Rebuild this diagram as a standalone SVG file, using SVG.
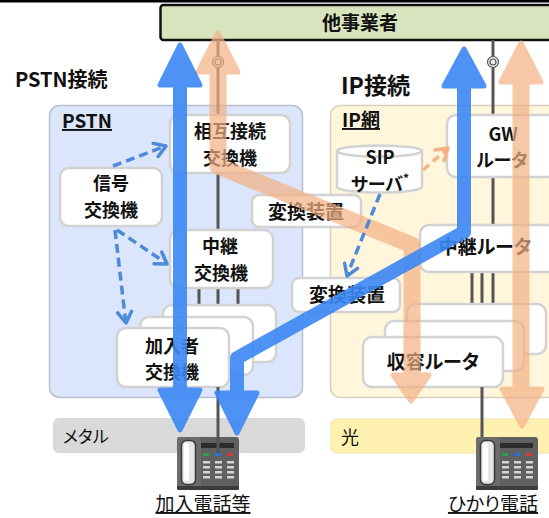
<svg xmlns="http://www.w3.org/2000/svg" width="549" height="518" viewBox="0 0 549 518">
  <style>
    text { font-family: "Noto Sans CJK JP", "Noto Sans", sans-serif; fill: #111; font-feature-settings: "palt"; }
    .title { font-size: 19px; font-weight: bold; }
    .lbl { font-size: 19px; font-weight: bold; text-anchor: middle; }
    .lbl2 { font-size: 18px; font-weight: bold; text-anchor: middle; }
    .media { font-size: 17px; }
    .cap { font-size: 19px; text-anchor: middle; text-decoration: underline; }
    .node { fill: #ffffff; stroke: #d2d2d2; stroke-width: 2.5; }
    .wire { stroke: #555555; stroke-width: 3; fill: none; }
    .dash { fill: none; stroke: #4d8bd9; stroke-width: 3.5; stroke-dasharray: 9 5; }
    .dash-o { fill: none; stroke: #f4b183; stroke-width: 3.5; stroke-dasharray: 8 5; }
    .chev { fill: none; stroke: #4d8bd9; stroke-width: 3.5; stroke-linecap: round; stroke-linejoin: round; }
    .chev-o { fill: none; stroke: #f4b183; stroke-width: 3.5; stroke-linecap: round; stroke-linejoin: round; }
    .blue { fill: #3b87f5; stroke: #3b87f5; stroke-width: 5; stroke-linejoin: round; }
    .orng { fill: #f4b183; stroke: #f4b183; stroke-width: 5; stroke-linejoin: round; }
  </style>
  <defs>
    <g id="phone">
      <rect x="0" y="0" width="62" height="52" rx="3" fill="#606060"/>
      <rect x="0" y="0" width="24" height="52" rx="3" fill="#6c6c6c"/>
      <rect x="0" y="49" width="62" height="4" rx="1" fill="#3c3c3c"/>
      <rect x="4.5" y="3.5" width="14" height="44" rx="5" fill="#e6e6e6" stroke="#3a3a3a" stroke-width="1.5"/>
      <rect x="7" y="6" width="5" height="38" rx="2" fill="#ffffff"/>
      <rect x="24" y="6" width="33" height="5" fill="#2c2c2c"/>
      <rect x="26" y="16" width="6" height="3" fill="#2e9e4a"/>
      <rect x="38" y="16" width="6" height="3" fill="#2f6fd6"/>
      <rect x="50" y="16" width="6" height="3" fill="#d63a3a"/>
      <g fill="#d4d4d4">
        <rect x="26" y="24" width="7" height="2.5"/><rect x="38" y="24" width="7" height="2.5"/><rect x="50" y="24" width="7" height="2.5"/>
        <rect x="26" y="29" width="7" height="2.5"/><rect x="38" y="29" width="7" height="2.5"/><rect x="50" y="29" width="7" height="2.5"/>
        <rect x="26" y="34" width="7" height="2.5"/><rect x="38" y="34" width="7" height="2.5"/><rect x="50" y="34" width="7" height="2.5"/>
        <rect x="26" y="39" width="7" height="2.5"/><rect x="38" y="39" width="7" height="2.5"/><rect x="50" y="39" width="7" height="2.5"/>
      </g>
    </g>
  </defs>

  <rect width="549" height="518" fill="#ffffff"/>
  <rect x="0" y="0" width="549" height="2.5" fill="#000000"/>

  <!-- network areas -->
  <g id="pstn-area">
    <rect x="49.5" y="105.5" width="253" height="292" rx="10" fill="#dbe5fb" stroke="#b7bfcd" stroke-width="1.5"/>
    <text x="62" y="128" class="title" style="text-decoration: underline;">PSTN</text>
  </g>
  <g id="ip-area">
    <rect x="330.5" y="105.5" width="240" height="292" rx="10" fill="#fff6db" stroke="#d8d1bd" stroke-width="1.5"/>
    <text x="342" y="127" class="title" style="text-decoration: underline;">IP網</text>
  </g>

  <text x="15" y="87" class="title" style="font-size: 20px;">PSTN接続</text>
  <text x="341" y="94" class="title" style="font-size: 23px;">IP接続</text>

  <!-- access media -->
  <g id="metal">
    <rect x="53" y="418" width="252" height="35" rx="6" fill="#d9d9d9"/>
    <text x="63" y="443" class="media">メタル</text>
  </g>
  <g id="hikari">
    <rect x="331" y="419" width="240" height="34" rx="6" fill="#fff2b0" stroke="#efe3a8" stroke-width="1"/>
    <text x="341" y="444" class="media" style="font-size: 18px;">光</text>
  </g>

  <!-- other carrier -->
  <g id="other-carrier">
    <rect x="160.5" y="5" width="400" height="35" rx="3" fill="#d7e4bd" stroke="#111111" stroke-width="2.5"/>
    <text x="360" y="30" class="lbl">他事業者</text>
  </g>

  <!-- physical wiring -->
  <g id="wires">
    <line x1="218" y1="40" x2="218" y2="115" class="wire"/>
    <line x1="218" y1="173" x2="218" y2="230" class="wire"/>
    <line x1="199" y1="288" x2="199" y2="330" class="wire"/>
    <line x1="218" y1="288" x2="218" y2="320" class="wire"/>
    <line x1="238" y1="288" x2="238" y2="310" class="wire"/>
    <line x1="493" y1="40" x2="493" y2="115" class="wire"/>
    <line x1="493" y1="177" x2="493" y2="225" class="wire"/>
    <line x1="472" y1="272" x2="472" y2="338" class="wire"/>
    <line x1="482" y1="272" x2="482" y2="322" class="wire"/>
    <line x1="493" y1="272" x2="493" y2="305" class="wire"/>
    <g fill="#eeeeee" stroke="#555555" stroke-width="1.2">
      <circle cx="218" cy="62" r="5.5"/>
      <circle cx="218" cy="62" r="3" fill="none"/>
      <circle cx="493" cy="62" r="5.5"/>
      <circle cx="493" cy="62" r="3" fill="none"/>
    </g>
  </g>

  <!-- PSTN nodes -->
  <g id="sogo-setsuzoku">
    <rect x="170" y="115" width="120" height="58" rx="9" class="node"/>
    <text class="lbl2"><tspan x="230" y="138">相互接続</tspan><tspan x="230" y="164.5">交換機</tspan></text>
  </g>
  <g id="shingo">
    <rect x="60" y="168" width="102" height="58" rx="9" class="node"/>
    <text class="lbl2"><tspan x="111" y="190">信号</tspan><tspan x="111" y="216.5">交換機</tspan></text>
  </g>
  <g id="chukei-kokanki">
    <rect x="170" y="230" width="103" height="58" rx="9" class="node"/>
    <text class="lbl2"><tspan x="220" y="253">中継</tspan><tspan x="221" y="279.5">交換機</tspan></text>
  </g>
  <g id="henkan-1">
    <rect x="252" y="195" width="109" height="32" rx="7" class="node"/>
    <text x="306" y="219" class="lbl">変換装置</text>
  </g>
  <g id="henkan-2">
    <rect x="292" y="278" width="108" height="34" rx="7" class="node"/>
    <text x="347" y="302" class="lbl">変換装置</text>
  </g>
  <g id="kanyusha">
    <rect x="163" y="305" width="113" height="57" rx="9" class="node"/>
    <rect x="140" y="317" width="113" height="58" rx="9" class="node"/>
    <rect x="117" y="328" width="112" height="59" rx="9" class="node"/>
    <text class="lbl2"><tspan x="172" y="352.5">加入者</tspan><tspan x="172" y="379">交換機</tspan></text>
  </g>

  <!-- IP nodes -->
  <g id="sip-server">
    <path d="M337,151 A42.5,5.5 0 0 1 422,151 V187 A42.5,5.5 0 0 1 337,187 Z" class="node"/>
    <path d="M337,151 A42.5,5.5 0 0 0 422,151" fill="none" stroke="#d2d2d2" stroke-width="2.5"/>
    <text class="lbl2"><tspan x="380" y="164">SIP</tspan><tspan x="380" y="190.5">サーバ</tspan><tspan font-size="12" dy="-8">*</tspan></text>
  </g>
  <g id="gw-router">
    <rect x="447" y="115" width="120" height="62" rx="9" class="node"/>
    <text class="lbl2"><tspan x="503" y="140.5">GW</tspan><tspan x="502" y="167">ルータ</tspan></text>
  </g>
  <g id="chukei-router">
    <rect x="420" y="225" width="150" height="47" rx="9" class="node"/>
    <text x="485" y="254" class="lbl">中継ルータ</text>
  </g>
  <g id="shuyo-router">
    <rect x="407" y="304" width="139" height="50" rx="9" class="node"/>
    <rect x="385" y="321" width="139" height="50" rx="9" class="node"/>
    <rect x="363" y="337" width="140" height="50" rx="9" class="node"/>
    <text x="433" y="369" class="lbl">収容ルータ</text>
  </g>

  <!-- subscriber wiring and terminals -->
  <g id="phone-left">
    <use href="#phone" x="177" y="437"/>
    <text x="203" y="511" class="cap">加入電話等</text>
  </g>
  <g id="phone-right">
    <use href="#phone" x="476" y="437"/>
    <text x="493" y="511" class="cap">ひかり電話</text>
  </g>
  <g id="drop-wires">
    <line x1="218" y1="387" x2="218" y2="453" class="wire"/>
    <line x1="482" y1="387" x2="482" y2="437" class="wire"/>
  </g>

  <!-- call paths -->
  <g id="connectors">
    <g opacity="0.7">
      <polyline points="218,70 218,166 412,245 412,380" fill="none" stroke="#f4b183" stroke-width="17" stroke-linejoin="round"/>
      <polygon points="218,33 198,72 238,72" class="orng"/>
      <polygon points="411,401 393,375 429,375" class="orng"/>
      <line x1="521" y1="80" x2="521" y2="392" stroke="#f4b183" stroke-width="17"/>
      <polygon points="521,43 501,82 541,82" class="orng"/>
      <polygon points="522,426 502,389 542,389" class="orng"/>
    </g>
    <g opacity="0.9">
      <line x1="180" y1="80" x2="180" y2="395" stroke="#3b87f5" stroke-width="14"/>
      <polygon points="180,45 160,85 200,85" class="blue"/>
      <polygon points="180,430 160,390 200,390" class="blue"/>
      <polyline points="464,80 464,232 237,358 237,397" fill="none" stroke="#3b87f5" stroke-width="14" stroke-linejoin="round"/>
      <polygon points="464,49 444,86 484,86" class="blue"/>
      <polygon points="237,433 217,393 257,393" class="blue"/>
    </g>
    <!-- signalling -->
    <line x1="113" y1="166" x2="163" y2="147" class="dash"/>
    <polyline points="153.2,143.4 166,146 158.2,156.5" class="chev"/>
    <line x1="117" y1="230" x2="163" y2="261" class="dash"/>
    <polyline points="161.8,252.1 167,264 154,263.7" class="chev"/>
    <line x1="115" y1="230" x2="125.5" y2="320" class="dash"/>
    <polyline points="117.7,312.9 126,323 131.6,311.3" class="chev"/>
    <line x1="380" y1="194" x2="348" y2="273" class="dash"/>
    <polyline points="344.6,263.2 347,276 357.6,268.4" class="chev"/>
    <line x1="423" y1="170" x2="446" y2="150" class="dash-o"/>
    <polyline points="435.1,149.9 448,148 444.3,160.5" class="chev-o"/>
  </g>
</svg>
